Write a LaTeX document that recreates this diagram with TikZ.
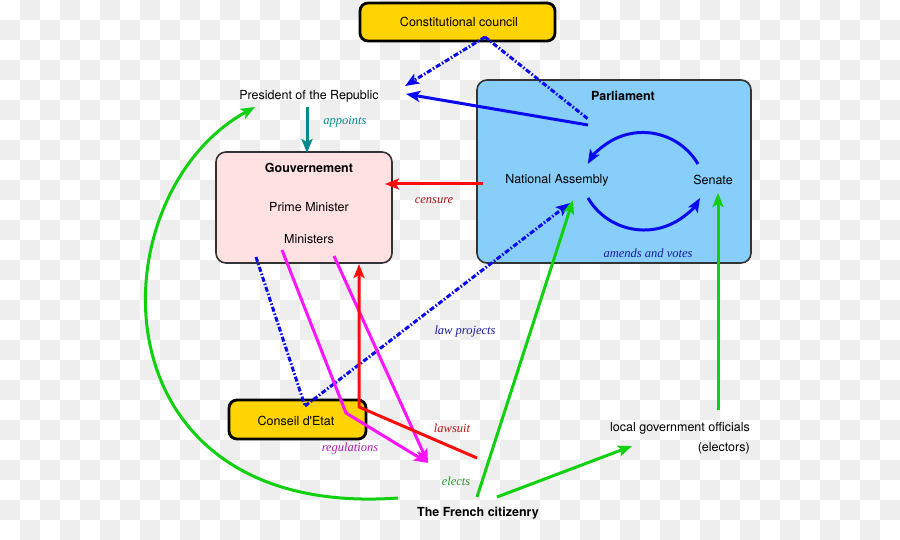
\documentclass[tikz,border=0pt]{standalone}
\usepackage{fontspec}
\setmainfont{TeX Gyre Heros}
\newfontfamily\rawheros{TeX Gyre Heros}[Ligatures=TeXOff]
\newfontfamily\labelfont{Liberation Serif}
\usetikzlibrary{arrows.meta}
\definecolor{checker}{HTML}{EEEEEE}
\definecolor{gold}{HTML}{FFD400}
\definecolor{skyb}{HTML}{87CEFA}
\definecolor{pinkb}{HTML}{FFE1E1}
\definecolor{framegray}{HTML}{333333}
\definecolor{tealc}{HTML}{008B8B}
\definecolor{bluec}{HTML}{0A0AF0}
\definecolor{navyc}{HTML}{1A1AA0}
\definecolor{redc}{HTML}{FF0D0D}
\definecolor{darkredc}{HTML}{B8141A}
\definecolor{magc}{HTML}{FF14FF}
\definecolor{purplec}{HTML}{B020B0}
\definecolor{greenc}{HTML}{10D010}
\definecolor{dgreenc}{HTML}{2A962A}
\begin{document}
\begin{tikzpicture}[x=1pt,y=-1pt,
  txt/.style={font=\fontsize{12.5}{15}\selectfont, inner sep=0pt, text=black},
  ttl/.style={font=\bfseries\fontsize{12.5}{15}\selectfont, inner sep=0pt, text=black},
  lbl/.style={font=\labelfont\itshape\fontsize{12.5}{15}\selectfont, inner sep=0pt},
  yellowbox/.style={draw=black, line width=2.8pt, fill=gold, rounded corners=8pt, inner sep=0pt},
  bigbox/.style={draw=framegray, line width=1.6pt, rounded corners=10pt, inner sep=0pt},
  conn/.style={line width=3pt, -{Stealth[length=14pt,width=11pt,inset=3pt]}},
  dashdotline/.style={line width=3pt, dash pattern=on 5pt off 2pt on 1.5pt off 2pt}
]
\useasboundingbox (0,0) rectangle (900,540);
% checkerboard background
\fill[white] (0,0) rectangle (900,540);
\foreach \j in {0,...,26}{
  \pgfmathtruncatemacro\st{mod(\j+1,2)}
  \pgfmathtruncatemacro\nx{\st+2}
  \foreach \i in {\st,\nx,...,44}{
    \fill[checker] (\i*20,\j*20) rectangle ++(20,20);
  }
}
% boxes
\node[yellowbox, minimum width=195pt, minimum height=38pt] (cc) at (457.5,22) {};
\node[txt] (cctext) at (459,22) {Constitutional council};
\node[bigbox, fill=skyb, minimum width=274pt, minimum height=183pt] (parl) at (614,171.5) {};
\node[ttl] (parltitle) at (623,96) {Parliament};
\node[bigbox, fill=pinkb, minimum width=176pt, minimum height=111pt] (gouv) at (304,207.5) {};
\node[ttl] (gouvtitle) at (309,168) {Gouvernement};
\node[txt] (pm) at (309,207) {Prime Minister};
\node[txt] (mins) at (309,239) {Ministers};
\node[yellowbox, minimum width=137pt, minimum height=39pt] (ce) at (297.5,419.5) {};
\node[txt] (cetext) at (296,421) {Conseil d{\rawheros '}Etat};
% plain texts
\node[txt] (pres) at (309,96) {President of the Republic};
\node[txt] (na) at (557,180) {National Assembly};
\node[txt] (sen) at (713,180) {Senate};
\node[txt] (local) at (680,428) {local government officials};
\node[txt, anchor=east] (electors) at (750,448) {(electors)};
\node[ttl] (citizen) at (478,513) {The French citizenry};
% italic labels
\node[lbl, text=tealc] (appoints) at (345,122) {appoints};
\node[lbl, text=navyc] (amends) at (648,253) {amends and votes};
\node[lbl, text=darkredc] (censure) at (434,201) {censure};
\node[lbl, text=navyc] (lawproj) at (465,331) {law projects};
\node[lbl, text=darkredc] (lawsuit) at (452,428) {lawsuit};
\node[lbl, text=purplec] (regul) at (350,448) {regulations};
\node[lbl, text=dgreenc] (elects) at (456,481) {elects};
% connector end points
\coordinate (presS) at (307,107);
\coordinate (gouvN) at (307,153);
\coordinate (parlSrc) at (588,125);
\coordinate (presE) at (406,94);
\coordinate (ccS) at (485,37);
\coordinate (presNE) at (405,86);
\coordinate (parlIn) at (588,119);
\coordinate (parlW) at (483,184);
\coordinate (gouvE) at (385,184);
\coordinate (gouvSW) at (256,257);
\coordinate (ceN) at (305,406);
\coordinate (naSW) at (570,203);
\coordinate (minA) at (282,250);
\coordinate (regBend) at (346,413);
\coordinate (minB) at (334,256);
\coordinate (regTip) at (428,463);
\coordinate (lawEnd) at (477,458);
\coordinate (ceNE) at (359,407);
\coordinate (gouvS) at (359,264);
\coordinate (citA) at (477,497);
\coordinate (naS) at (573,200);
\coordinate (citB) at (497,497);
\coordinate (localW) at (632,446);
\coordinate (localN) at (718,410);
\coordinate (senS) at (718,193);
\coordinate (citW) at (398,498);
\coordinate (presSW) at (255,107);
% connectors
\draw[conn, tealc] (presS) -- (gouvN);
\draw[conn, bluec] (parlSrc) -- (presE);
\draw[dashdotline, bluec, -{Stealth[length=14pt,width=11pt,inset=3pt]}] (ccS) -- (presNE);
\draw[dashdotline, bluec] (ccS) -- (parlIn);
\draw[conn, redc] (parlW) -- (gouvE);
\draw[dashdotline, bluec] (gouvSW) -- (ceN);
\draw[dashdotline, bluec, -{Stealth[length=14pt,width=11pt,inset=3pt]}] (ceN) -- (naSW);
\draw[conn, magc] (minA) -- (regBend) -- (regTip);
\draw[conn, magc] (minB) -- (regTip);
\draw[conn, redc] (lawEnd) -- (ceNE) -- (gouvS);
\draw[conn, greenc] (citA) -- (naS);
\draw[conn, greenc] (citB) -- (localW);
\draw[conn, greenc] (localN) -- (senS);
\draw[conn, greenc] (citW) .. controls (90,520) and (95,195) .. (presSW);
% parliament cycle
\draw[conn, bluec] (698,164) arc[start angle=-30.5, end angle=-149.5, radius=64];
\draw[conn, bluec] (588,198) arc[start angle=149.5, end angle=30.5, radius=65];
\end{tikzpicture}
\end{document}
